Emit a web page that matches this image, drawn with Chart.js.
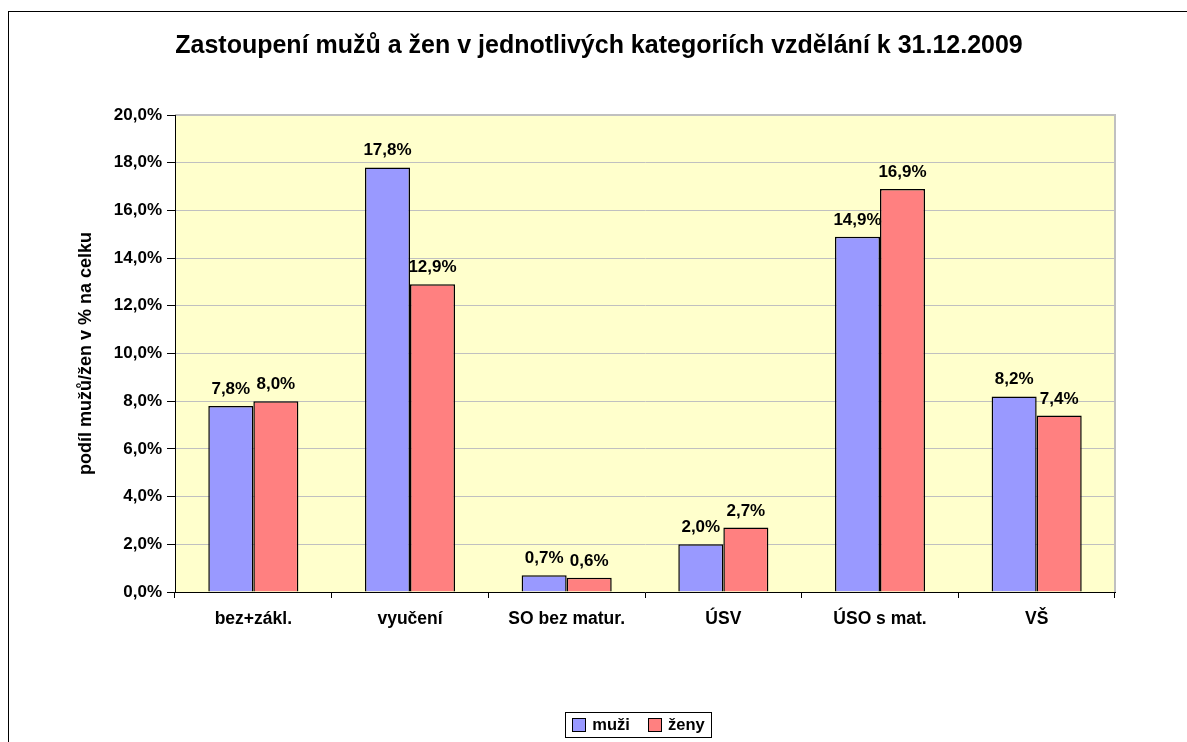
<!DOCTYPE html>
<html>
<head>
<meta charset="utf-8">
<script src="https://cdn.jsdelivr.net/npm/chart.js@4.4.1/dist/chart.umd.min.js"></script>
<style>
    body { margin: 0; background: #fff; }
    #frame {
        position: absolute; left: 8px; top: 11px;
        width: 1300px; height: 900px;
        border: 1px solid #000;
    }
    #wrap { position: absolute; left: 0; top: 0; width: 1187px; height: 742px; }
</style>
</head>
<body>
<div id="frame"></div>
<div id="wrap"><canvas id="Chart" width="1187" height="742"></canvas></div>
<script>
const categories = ['bez+zákl.', 'vyučení', 'SO bez matur.', 'ÚSV', 'ÚSO s mat.', 'VŠ'];
const muzi = [7.8, 17.8, 0.7, 2.0, 14.9, 8.2];
const zeny = [8.0, 12.9, 0.6, 2.7, 16.9, 7.4];
const chart_title = 'Zastoupení mužů a žen v jednotlivých kategoriích vzdělání k 31.12.2009';
const y_title = 'podíl mužů/žen v % na celku';

const fmt = v => v.toFixed(1).replace('.', ',') + '%';
const FONT = 'Arial, "Liberation Sans", sans-serif';

// žluté pozadí grafu
const plotBg = {
    id: 'plotBg',
    beforeDraw(chart) {
        const a = chart.chartArea, ctx = chart.ctx;
        ctx.save();
        ctx.fillStyle = '#FFFFCC';
        ctx.fillRect(a.left, a.top, a.right - a.left, a.bottom - a.top);
        ctx.strokeStyle = '#c0c0c0';
        ctx.lineWidth = 2;
        ctx.beginPath();
        ctx.moveTo(a.left, a.top);
        ctx.lineTo(a.right, a.top);
        ctx.lineTo(a.right, a.bottom);
        ctx.stroke();
        ctx.restore();
    }
};

// popisky nad sloupci
const barLabels = {
    id: 'barLabels',
    afterDatasetsDraw(chart) {
        const ctx = chart.ctx;
        ctx.save();
        ctx.font = 'bold 17px ' + FONT;
        ctx.fillStyle = '#000';
        ctx.textAlign = 'center';
        ctx.textBaseline = 'alphabetic';
        chart.data.datasets.forEach((ds, i) => {
            chart.getDatasetMeta(i).data.forEach((el, j) => {
                ctx.fillText(fmt(ds.data[j]), el.x, el.y - 12);
            });
        });
        ctx.restore();
    }
};

// nadpis + legenda
const titleLegend = {
    id: 'titleLegend',
    afterDraw(chart) {
        const ctx = chart.ctx;
        ctx.save();
        ctx.fillStyle = '#000';
        ctx.font = 'bold 25px ' + FONT;
        ctx.textAlign = 'center';
        ctx.textBaseline = 'alphabetic';
        ctx.fillText(chart_title, 599, 53);

        ctx.font = 'bold 16.5px ' + FONT;
        const items = chart.data.datasets.map(ds => ({ text: ds.label, color: ds.backgroundColor, w: ctx.measureText(ds.label).width }));
        const box = 13, gap = 7, between = 18, padX = 7;
        let total = padX * 2;
        items.forEach((it, i) => { total += box + gap + it.w + (i ? between : 0); });
        const cx = 638.5, top = 712, h = 25, cy = top + h / 2;
        let x = cx - total / 2;
        ctx.lineWidth = 1;
        ctx.strokeStyle = '#000';
        ctx.strokeRect(Math.round(x) + 0.5, top + 0.5, Math.round(total), h);
        x += padX;
        ctx.textAlign = 'left';
        ctx.textBaseline = 'middle';
        items.forEach((it, i) => {
            if (i) x += between;
            ctx.fillStyle = it.color;
            ctx.fillRect(Math.round(x) + 0.5, Math.round(cy - box / 2) + 0.5, box, box);
            ctx.strokeRect(Math.round(x) + 0.5, Math.round(cy - box / 2) + 0.5, box, box);
            x += box + gap;
            ctx.fillStyle = '#000';
            ctx.fillText(it.text, x, cy + 1);
            x += it.w;
        });
        ctx.restore();
    }
};

const ctx = document.getElementById('Chart');
const chart = new Chart(ctx, {
    type: 'bar',
    data: {
        labels: categories,
        datasets: [
            { label: 'muži', data: muzi, backgroundColor: '#9999FF', borderColor: '#000', borderWidth: 1.5 },
            { label: 'ženy', data: zeny, backgroundColor: '#FF8080', borderColor: '#000', borderWidth: 1.5 }
        ]
    },
    options: {
        responsive: false,
        animation: false,
        layout: { padding: { left: 0, top: 115, right: 72, bottom: 110 } },
        datasets: { bar: { categoryPercentage: 0.575, barPercentage: 1 } },
        plugins: {
            legend: { display: false },
            title: { display: false },
            tooltip: { enabled: false }
        },
        scales: {
            x: {
                afterFit(scale) { scale.height = 40; },
                grid: { offset: true, drawOnChartArea: false, color: '#000', tickLength: 6 },
                border: { color: '#000', width: 1 },
                ticks: { color: '#000', font: { family: FONT, size: 17.5, weight: 'bold' }, padding: 11 }
            },
            y: {
                min: 0, max: 20,
                afterFit(scale) { scale.width = 175; },
                ticks: {
                    stepSize: 2, color: '#000', padding: 5,
                    font: { family: FONT, size: 17, weight: 'bold' },
                    callback: v => fmt(v)
                },
                grid: { color: '#c0c0c0', tickColor: '#000', tickLength: 8 },
                border: { color: '#000', width: 1 },
                title: {
                    display: true, text: y_title, color: '#000',
                    font: { family: FONT, size: 18, weight: 'bold' },
                    padding: { top: 75, bottom: 0 }
                }
            }
        }
    },
    plugins: [plotBg, barLabels, titleLegend]
});
</script>
</body>
</html>
